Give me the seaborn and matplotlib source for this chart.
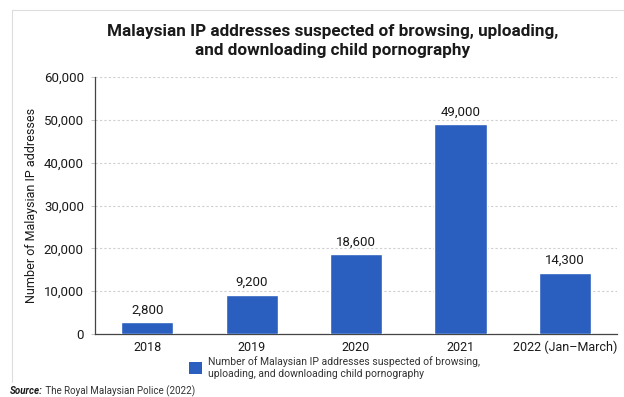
import matplotlib
matplotlib.use("Agg")
import matplotlib.pyplot as plt
from matplotlib.patches import Patch
from matplotlib.lines import Line2D
import seaborn as sns
import pandas as pd

years = ["2018", "2019", "2020", "2021", "2022 (Jan–March)"]
ip_counts = [2800, 9200, 18600, 49000, 14300]
value_labels = ["2,800", "9,200", "18,600", "49,000", "14,300"]
y_ticks = [0, 10000, 20000, 30000, 40000, 50000, 60000]
y_tick_labels = ["0", "10,000", "20,000", "30,000", "40,000", "50,000", "60,000"]

title = "Malaysian IP addresses suspected of browsing, uploading,\nand downloading child pornography"
y_label = "Number of Malaysian IP addresses"
legend_label = ("Number of Malaysian IP addresses suspected of browsing,\n"
                "uploading, and downloading child pornography")
source_bold = "Source:"
source_text = " The Royal Malaysian Police (2022)"

BAR = "#2a5ebf"
TEXT = "#1a1a1a"

sns.set_theme(style="white")
plt.rcParams["font.family"] = ["Roboto", "DejaVu Sans"]

df = pd.DataFrame({"year": years, "count": ip_counts})

W, H = 624, 397
fig = plt.figure(figsize=(W / 100, H / 100), dpi=100)
fig.patch.set_facecolor("white")
ax = fig.add_axes([95 / W, 1 - 334 / H, (617 - 95) / W, (334 - 77) / H])

sns.barplot(data=df, x="year", y="count", color=BAR, width=0.5,
            saturation=1, ax=ax, zorder=3)

ax.set_ylim(0, 60000)
ax.set_xlim(-0.5, 4.5)
ax.set_yticks(y_ticks)
ax.set_yticklabels(y_tick_labels, fontsize=9.5, color=TEXT)
ax.tick_params(axis="y", length=3, width=0.6, color="#bbbbbb", pad=5, left=True)
ax.tick_params(axis="x", length=0, pad=5, labelsize=9, labelcolor=TEXT)
ax.set_xlabel("")
ax.set_ylabel(y_label, fontsize=9, color=TEXT, labelpad=4)

ax.yaxis.grid(True, color="#cfcfcf", linestyle=(0, (2, 2)), linewidth=0.8, zorder=0)
ax.set_axisbelow(True)
for side in ["top", "right"]:
    ax.spines[side].set_visible(False)
for side in ["left", "bottom"]:
    ax.spines[side].set_color("#444444")
    ax.spines[side].set_linewidth(0.9)

for i, (v, lab) in enumerate(zip(ip_counts, value_labels)):
    ax.annotate(lab, (i, v), xytext=(0, 4), textcoords="offset points",
                ha="center", va="bottom", fontsize=9.5, color=TEXT)

fig.text(333 / W, 1 - 41 / H, title, ha="center", va="center",
         fontsize=12.3, fontweight="bold", color=TEXT, linespacing=1.35)

handle = Patch(facecolor=BAR, edgecolor="none")
fig.legend([handle], [legend_label], loc="upper left",
           bbox_to_anchor=(184 / W, 1 - 351 / H), frameon=False,
           fontsize=7.5, handlelength=1.25, handleheight=1.3,
           handletextpad=0.6, borderpad=0, labelcolor="#333333")

src = fig.text(10 / W, 1 - 391 / H, source_bold, ha="left", va="center",
               fontsize=7, fontweight="bold", fontstyle="italic", color=TEXT)
fig.canvas.draw()
bb = src.get_window_extent()
fig.text(bb.x1 / W, 1 - 391 / H, source_text, ha="left", va="center",
         fontsize=7, color="#333333")

# thin card outline along the top and left edges
fig.add_artist(Line2D([12 / W, 1], [1 - 10 / H, 1 - 10 / H], color="#dddddd", linewidth=0.8))
fig.add_artist(Line2D([12 / W, 12 / W], [1 - 10 / H, 1 - 382 / H], color="#dddddd", linewidth=0.8))

fig.savefig("out.png", dpi=100, facecolor="white")
